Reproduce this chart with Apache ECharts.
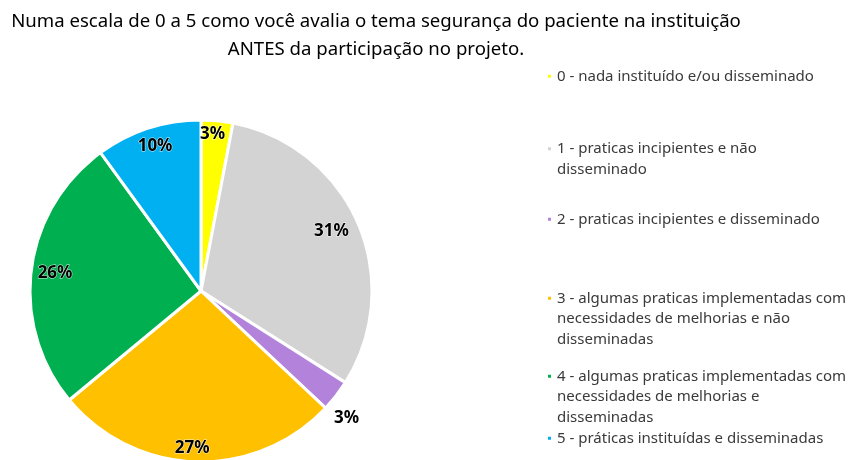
<!DOCTYPE html>
<html>
<head>
<meta charset="utf-8">
<script src="https://cdn.jsdelivr.net/npm/echarts@6/dist/echarts.min.js"></script>
<style>
  html, body { margin: 0; padding: 0; background: #fff; }
  #chart { width: 849px; height: 460px; }
</style>
</head>
<body>
<div id="chart"></div>
<script>
const titleText = "Numa escala de 0 a 5 como você avalia o tema segurança do paciente na instituição\nANTES da participação no projeto.";

const categories = [
  "0 - nada instituído e/ou disseminado",
  "1 - praticas incipientes e não disseminado",
  "2 - praticas incipientes e disseminado",
  "3 - algumas praticas implementadas com necessidades de melhorias e não disseminadas",
  "4 - algumas praticas implementadas com necessidades de melhorias e disseminadas",
  "5 - práticas instituídas e disseminadas",
];
// how the legend text wraps in the reference
const legendLines = [
  ["0 - nada instituído e/ou disseminado"],
  ["1 - praticas incipientes e não", "disseminado"],
  ["2 - praticas incipientes e disseminado"],
  ["3 - algumas praticas implementadas com", "necessidades de melhorias e não", "disseminadas"],
  ["4 - algumas praticas implementadas com", "necessidades de melhorias e", "disseminadas"],
  ["5 - práticas instituídas e disseminadas"],
];
const values = [3, 31, 3, 27, 26, 10];
const colors = ["#FFFF00", "#D3D3D3", "#B383DB", "#FFC000", "#00B050", "#00B0F0"];

const chart = echarts.init(document.getElementById("chart"));

const R = 171;
const center = [201, 291];
const legendTops = [66, 118, 209, 247, 325, 428];
const lineH = 20.5;
// small nudges so each percent label sits where the reference puts it
const labelNudge = [[-3, -2], [-12, 2], [23, 32], [-4, 2], [8, 2], [2, 3]];

const legends = categories.map((name, i) => ({
  data: [name],
  orient: "vertical",
  left: 546,
  top: legendTops[i],
  padding: 0,
  icon: "rect",
  itemWidth: 5,
  itemHeight: 5,
  selectedMode: false,
  // blank lines first so the marker sits on the first line of text
  formatter: () => "\n".repeat(legendLines[i].length - 1) + legendLines[i].join("\n"),
  textStyle: {
    fontFamily: "Noto Sans",
    fontSize: 15,
    lineHeight: lineH,
    color: "#3a3a3a",
  },
}));

chart.setOption({
  animation: false,
  title: {
    text: titleText,
    left: 371,
    top: 3,
    textAlign: "center",
    textStyle: {
      fontFamily: "Noto Sans",
      fontSize: 18.6,
      fontWeight: "normal",
      lineHeight: 28,
      color: "#000",
    },
  },
  legend: legends,
  series: [
    {
      type: "pie",
      center,
      radius: [0, R],
      startAngle: 90,
      clockwise: true,
      silent: true,
      itemStyle: { borderColor: "#fff", borderWidth: 3 },
      label: { show: false },
      labelLine: { show: false },
      data: categories.map((name, i) => ({
        name,
        value: values[i],
        itemStyle: { color: colors[i] },
      })),
    },
    {
      // transparent twin, only used to place the percent labels near the rim
      type: "pie",
      center,
      radius: [0, R * 1.78],
      startAngle: 90,
      clockwise: true,
      silent: true,
      itemStyle: { color: "rgba(0,0,0,0)" },
      label: {
        show: true,
        position: "inside",
        formatter: "{c}%",
        fontFamily: "Noto Sans",
        fontWeight: "bold",
        fontSize: 17,
        color: "#000",
        textBorderColor: "rgba(255,255,255,0.8)",
        textBorderWidth: 1,
      },
      labelLine: { show: false },
      labelLayout: (p) => ({ dx: labelNudge[p.dataIndex][0], dy: labelNudge[p.dataIndex][1] }),
      data: categories.map((name, i) => ({ name, value: values[i] })),
    },
  ],
});
</script>
</body>
</html>
